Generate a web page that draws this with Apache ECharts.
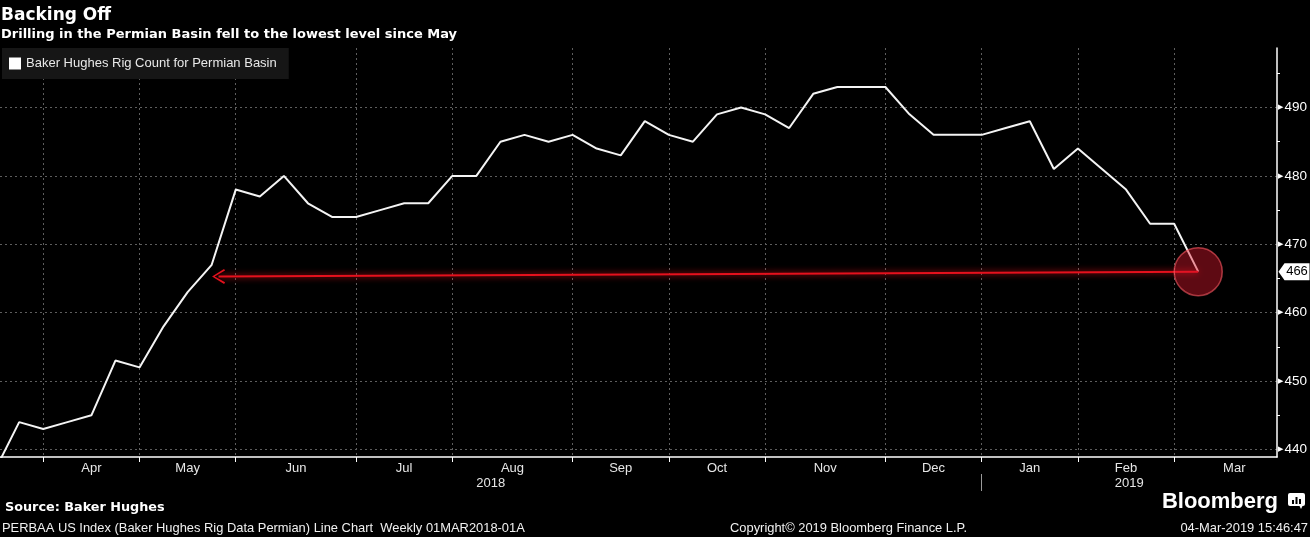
<!DOCTYPE html>
<html><head><meta charset="utf-8">
<script src="https://cdn.jsdelivr.net/npm/echarts@6/dist/echarts.min.js"></script>
<style>html,body{margin:0;padding:0;background:#000;}#c{width:1310px;height:537px;}</style>
</head><body><div id="c"></div>
<script>
// ---- data ----
const seriesName = 'Baker Hughes Rig Count for Permian Basin';
const weekDates = ['2018-03-16','2018-03-23','2018-03-30','2018-04-06','2018-04-13','2018-04-20','2018-04-27',
  '2018-05-04','2018-05-11','2018-05-18','2018-05-25','2018-06-01','2018-06-08','2018-06-15','2018-06-22','2018-06-29',
  '2018-07-06','2018-07-13','2018-07-20','2018-07-27','2018-08-03','2018-08-10','2018-08-17','2018-08-24','2018-08-31',
  '2018-09-07','2018-09-14','2018-09-21','2018-09-28','2018-10-05','2018-10-12','2018-10-19','2018-10-26',
  '2018-11-02','2018-11-09','2018-11-16','2018-11-23','2018-11-30','2018-12-07','2018-12-14','2018-12-21','2018-12-28',
  '2019-01-04','2019-01-11','2019-01-18','2019-01-25','2019-02-01','2019-02-08','2019-02-15','2019-02-22','2019-03-01'];
const rigCounts = [437,444,443,444,445,453,452,
  458,463,467,478,477,480,476,474,474,
  475,476,476,480,480,485,486,485,486,
  484,483,488,486,485,489,490,489,
  487,492,493,493,493,489,486,486,486,
  487,488,481,484,481,478,473,473,466];
const axisRange = ['2018-03-17T10:00:00Z', '2019-03-23T22:00:00Z'];
const monthBounds = ['2018-03-30','2018-04-27','2018-05-25','2018-06-29','2018-07-27','2018-08-31','2018-09-28',
  '2018-10-26','2018-11-30','2018-12-28','2019-01-25','2019-02-22','2019-03-29'];
const monthNames = ['Apr','May','Jun','Jul','Aug','Sep','Oct','Nov','Dec','Jan','Feb','Mar'];
const yearBoundary = '2018-12-28';
const yearNames = ['2018','2019'];
const yRange = [438.9, 498.7];
const yTicks = [440,450,460,470,480,490];
const yMinorTicks = [445,455,465,475,485,495];
const arrowStart = ['2018-05-20', 465.3];

// ---- helpers ----
const ts = s => Date.parse(s.length > 10 ? s : s + 'T00:00:00Z');
const xMin = ts(axisRange[0]), xMax = ts(axisRange[1]);
const lineData = weekDates.map((d, i) => [ts(d), rigCounts[i]]);
const allBounds = monthBounds.map(ts);
const boundTs = allBounds.filter(v => v <= xMax);
const labelTs = monthNames.map((m, i) => (allBounds[i] + allBounds[i + 1]) / 2);
const nearest = (arr, names, v) => {
  let best = 0;
  arr.forEach((a, i) => { if (Math.abs(a - v) < Math.abs(arr[best] - v)) best = i; });
  return names[best];
};
const yb = ts(yearBoundary);
const yearTs = [(xMin + yb) / 2, (yb + xMax) / 2];
const lastDate = lineData[lineData.length - 1][0];
const lastValue = rigCounts[rigCounts.length - 1];

const FF = '"Liberation Sans", Arial, sans-serif';
const FB = '"DejaVu Sans", sans-serif';
const grid = { color: '#5e5e5e', type: [2, 3], width: 1 };
const t = (text, pos, size, weight, family, color) => Object.assign({ text, padding: 0,
  textStyle: { color: color || '#fff', fontSize: size, fontWeight: weight, fontFamily: family } }, pos);

const chart = echarts.init(document.getElementById('c'), null, { renderer: 'canvas' });
chart.setOption({
  backgroundColor: '#000',
  animation: false,
  textStyle: { fontFamily: FF },
  title: [
    t('Backing Off', { left: 1, top: 7.5 }, 17, 'bold', FB),
    t('Drilling in the Permian Basin fell to the lowest level since May', { left: 1, top: 28 }, 13, 'bold', FB),
    t('Source: Baker Hughes', { left: 5, top: 501.5 }, 12.8, 'bold', FB),
    t('PERBAA US Index (Baker Hughes Rig Data Permian) Line Chart  Weekly 01MAR2018-01A', { left: 2, top: 522 }, 12.9, 'normal', FF, '#f0f0f0'),
    t('Copyright\u00a9 2019 Bloomberg Finance L.P.', { left: 730, top: 522 }, 12.9, 'normal', FF, '#f0f0f0'),
    t('04-Mar-2019 15:46:47', { right: 2, top: 522 }, 12.9, 'normal', FF, '#f0f0f0'),
    t('Bloomberg', { right: 32, top: 491 }, 22, 'bold', FF)
  ],
  graphic: [
    { type: 'rect', left: 1288, top: 493, shape: { width: 17, height: 13, r: 2 }, style: { fill: '#fff' } },
    { type: 'polygon', shape: { points: [[1299, 505], [1303, 505], [1301, 509]] }, style: { fill: '#fff' } },
    { type: 'rect', left: 1292, top: 500, shape: { width: 2, height: 4 }, style: { fill: '#000' } },
    { type: 'rect', left: 1295.5, top: 497, shape: { width: 2, height: 7 }, style: { fill: '#000' } },
    { type: 'rect', left: 1299, top: 499, shape: { width: 2, height: 5 }, style: { fill: '#000' } }
  ],
  legend: {
    data: [seriesName], left: 2, top: 48, selectedMode: false,
    backgroundColor: '#161616', padding: [9, 12, 9, 7],
    icon: 'rect', itemWidth: 12, itemHeight: 12,
    textStyle: { color: '#e8e8e8', fontSize: 13, fontFamily: FF }
  },
  grid: { left: 0, right: 33, top: 48, bottom: 80, containLabel: false, outerBoundsMode: 'none' },
  xAxis: [
    {
      type: 'value', min: xMin, max: xMax, position: 'bottom', scale: true,
      axisLine: { show: true, lineStyle: { color: '#fff', width: 1.5 } },
      axisTick: { show: true, customValues: boundTs, length: 5, lineStyle: { color: '#fff', width: 1 } },
      splitLine: { show: true, lineStyle: grid },
      axisLabel: {
        customValues: labelTs, margin: 5, color: '#e6e6e6', fontSize: 13, fontFamily: FF,
        formatter: v => nearest(labelTs, monthNames, v)
      }
    },
    {
      type: 'value', min: xMin, max: xMax, position: 'bottom', offset: 17, scale: true,
      axisLine: { show: false },
      axisTick: { show: true, customValues: [yb], length: 17, lineStyle: { color: '#9a9a9a', width: 1 } },
      splitLine: { show: false },
      axisLabel: {
        customValues: yearTs, margin: 3, color: '#e6e6e6', fontSize: 13, fontFamily: FF,
        formatter: v => nearest(yearTs, yearNames, v)
      }
    }
  ],
  yAxis: [
    {
      type: 'value', position: 'right', min: yRange[0], max: yRange[1],
      axisLine: { show: true, lineStyle: { color: '#fff', width: 1.5 } },
      axisTick: { show: false, customValues: yTicks },
      splitLine: { show: true, lineStyle: grid },
      axisLabel: {
        customValues: yTicks, margin: 1,
        formatter: v => '{t|\u25B6}{v|' + v + '}',
        rich: {
          t: { fontSize: 7, color: '#fff', padding: [0, 1, 0, 0], fontFamily: 'DejaVu Sans' },
          v: { fontSize: 13.5, color: '#fff', fontFamily: FF }
        }
      }
    },
    {
      type: 'value', position: 'right', min: yRange[0], max: yRange[1],
      axisLine: { show: false },
      axisTick: { show: true, customValues: yMinorTicks, length: 3, lineStyle: { color: '#fff', width: 1 } },
      splitLine: { show: false },
      axisLabel: { show: false }
    }
  ],
  series: [{
    name: seriesName, type: 'line', xAxisIndex: 0, yAxisIndex: 0,
    data: lineData, showSymbol: false, symbol: 'none', clip: true,
    lineStyle: { color: '#f4f4f4', width: 2 },
    itemStyle: { color: '#ffffff' },
    emphasis: { disabled: true },
    markLine: {
      silent: true, animation: false,
      label: { show: false },
      lineStyle: { color: '#e5111d', width: 2, type: 'solid', shadowBlur: 6, shadowColor: 'rgba(255,20,30,0.9)' },
      data: [[
        { coord: [ts(arrowStart[0]), arrowStart[1]], symbol: 'path://M7.5,0 L15,12 L13.3,13 L7.5,2.6 L1.7,13 L0,12 Z', symbolSize: [15, 13] },
        { coord: [lastDate, lastValue], symbol: 'none' }
      ]]
    },
    markPoint: {
      silent: true, animation: false,
      data: [
        { coord: [lastDate, lastValue], symbol: 'circle', symbolSize: 48,
          itemStyle: { color: 'rgba(225,25,45,0.42)', borderColor: 'rgba(255,90,100,0.6)', borderWidth: 1.5 },
          label: { show: false } },
        { coord: [xMax, lastValue], symbol: 'path://M0,8.5 L6,0 L31,0 L31,17 L6,17 Z', symbolSize: [31, 17], symbolOffset: [17, 0],
          itemStyle: { color: '#fff' },
          label: { show: true, position: 'inside', offset: [3, 0], formatter: String(lastValue), color: '#000', fontSize: 13, fontFamily: FF } }
      ]
    }
  }]
});
</script></body></html>
